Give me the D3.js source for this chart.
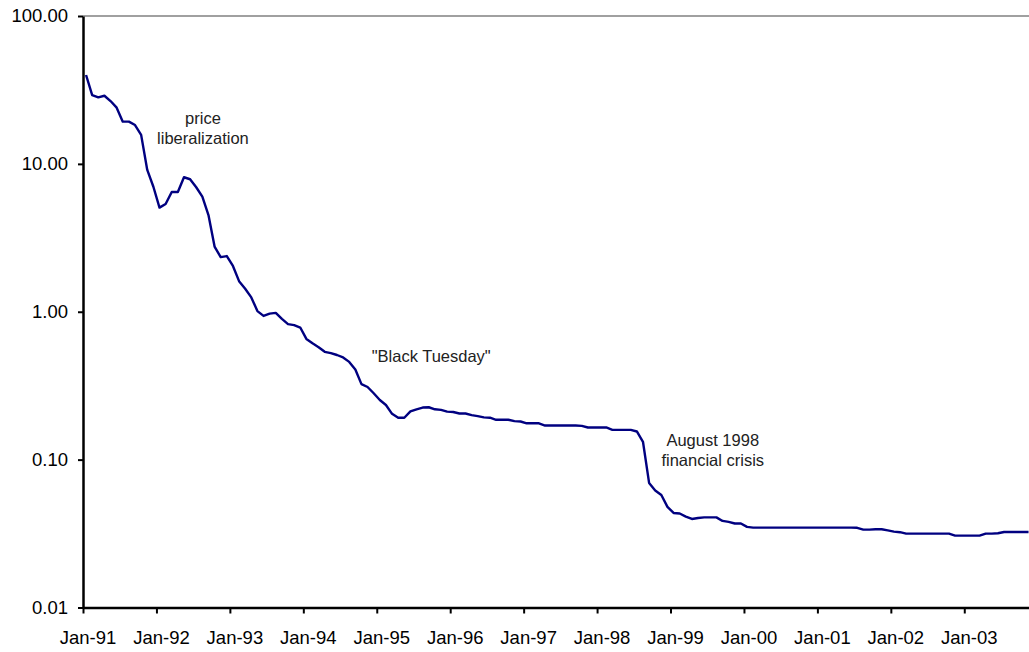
<!DOCTYPE html>
<html>
<head>
<meta charset="utf-8">
<script src="https://cdn.jsdelivr.net/npm/d3@7"></script>
<style>
  html, body { margin: 0; padding: 0; background: #fff; }
  svg { display: block; font-family: "Liberation Sans", Arial, sans-serif; }
</style>
</head>
<body>
<div id="chart"></div>
<script>
'use strict';

// Monthly values, Jan-91 onwards (log scale)
const startMonth = '1991-01';
const values = [
  39.9, 29.2, 28.2, 28.9, 26.6, 24.0, 19.3, 19.3, 18.3, 15.7,
  9.1, 7.0, 5.06, 5.36, 6.46, 6.46, 8.12, 7.87, 6.95, 6.0,
  4.51, 2.76, 2.34, 2.38, 2.04, 1.61, 1.43, 1.25, 1.01, 0.937,
  0.972, 0.982, 0.894, 0.824, 0.812, 0.782, 0.655, 0.612, 0.576, 0.536,
  0.525, 0.510, 0.491, 0.458, 0.407, 0.324, 0.310, 0.281, 0.253, 0.234,
  0.204, 0.192, 0.192, 0.212, 0.219, 0.225, 0.226, 0.219, 0.217, 0.211,
  0.210, 0.205, 0.205, 0.200, 0.197, 0.193, 0.192, 0.186, 0.186, 0.186,
  0.182, 0.181, 0.176, 0.176, 0.176, 0.170, 0.170, 0.170, 0.170, 0.170,
  0.170, 0.169, 0.165, 0.165, 0.165, 0.165, 0.159, 0.159, 0.159, 0.159,
  0.155, 0.132, 0.0696, 0.0619, 0.0577, 0.0479, 0.0436, 0.0432, 0.0412, 0.0397,
  0.0403, 0.0407, 0.0407, 0.0407, 0.0385, 0.0379, 0.0370, 0.0370, 0.0351, 0.0347,
  0.0347, 0.0347, 0.0347, 0.0347, 0.0347, 0.0347, 0.0347, 0.0347, 0.0347, 0.0347,
  0.0347, 0.0347, 0.0347, 0.0347, 0.0347, 0.0347, 0.0346, 0.0336, 0.0336, 0.0338,
  0.0338, 0.0332, 0.0326, 0.0323, 0.0316, 0.0316, 0.0316, 0.0316, 0.0316, 0.0316,
  0.0316, 0.0316, 0.0306, 0.0306, 0.0306, 0.0306, 0.0306, 0.0316, 0.0316, 0.0318,
  0.0324, 0.0324, 0.0324, 0.0324, 0.0324
];

const xTickLabels = ['Jan-91', 'Jan-92', 'Jan-93', 'Jan-94', 'Jan-95', 'Jan-96', 'Jan-97',
                     'Jan-98', 'Jan-99', 'Jan-00', 'Jan-01', 'Jan-02', 'Jan-03'];
const yTicks = [100, 10, 1, 0.1, 0.01];

// annotation anchors in data units (month index, value at first baseline)
const annotations = [
  { lines: ['price', 'liberalization'], month: 19.6, value: 18.6 },
  { lines: ['"Black Tuesday"'], month: 56.9, value: 0.458 },
  { lines: ['August 1998', 'financial crisis'], month: 102.9, value: 0.1245 }
];

const W = 1029, H = 652;
const MARGIN = { top: 16, left: 83, bottom: 45 };
const monthW = 6.12;
const nSlots = 155;

const x = d3.scaleLinear()
  .domain([0, nSlots])
  .range([MARGIN.left, MARGIN.left + nSlots * monthW]);

const y = d3.scaleLog()
  .domain([0.01, 100])
  .range([H - MARGIN.bottom + 0.5, MARGIN.top]);

const svg = d3.select('#chart').append('svg')
  .attr('width', W)
  .attr('height', H);

// top frame line
svg.append('line')
  .attr('x1', x(0)).attr('x2', x(nSlots))
  .attr('y1', y(100)).attr('y2', y(100))
  .attr('stroke', '#808080')
  .attr('stroke-width', 1.5);

// Y axis
const yAxis = svg.append('g')
  .attr('transform', `translate(${x(0)},0)`)
  .call(d3.axisLeft(y).tickValues(yTicks).tickFormat(d3.format('.2f')).tickSize(5).tickSizeOuter(0).tickPadding(10));
yAxis.select('.domain').attr('stroke', '#000').attr('stroke-width', 2.5);
yAxis.selectAll('.tick line').attr('stroke', '#000').attr('stroke-width', 2);
yAxis.selectAll('.tick text')
  .attr('font-size', '18.5px')
  .attr('font-family', '"Liberation Sans", Arial, sans-serif')
  .attr('fill', '#000');

// X axis (ticks at year boundaries, labels half a month to the right)
const yearIdx = xTickLabels.map((_, i) => i * 12);
const xAxis = svg.append('g')
  .attr('transform', `translate(0,${y(0.01)})`)
  .call(d3.axisBottom(x).tickValues(yearIdx).tickFormat((d, i) => xTickLabels[i]).tickSize(6).tickSizeOuter(0).tickPadding(17));
xAxis.select('.domain').attr('stroke', '#000').attr('stroke-width', 2.5);
xAxis.selectAll('.tick line').attr('stroke', '#000').attr('stroke-width', 2);
xAxis.selectAll('.tick text')
  .attr('x', 4.5)
  .attr('font-size', '18.5px')
  .attr('font-family', '"Liberation Sans", Arial, sans-serif')
  .attr('fill', '#000');

// series line
const line = d3.line()
  .x((d, i) => x(i + 0.5))
  .y(d => y(d));

svg.append('path')
  .datum(values)
  .attr('fill', 'none')
  .attr('stroke', '#000080')
  .attr('stroke-width', 2.4)
  .attr('stroke-linejoin', 'round')
  .attr('d', line);

// annotations
annotations.forEach(a => {
  const t = svg.append('text')
    .attr('x', x(a.month))
    .attr('y', y(a.value))
    .attr('text-anchor', 'middle')
    .attr('font-size', '16.5px')
    .attr('fill', '#222');
  a.lines.forEach((ln, k) => {
    t.append('tspan')
      .attr('x', x(a.month))
      .attr('dy', k === 0 ? 0 : 20)
      .text(ln);
  });
});
</script>
</body>
</html>
